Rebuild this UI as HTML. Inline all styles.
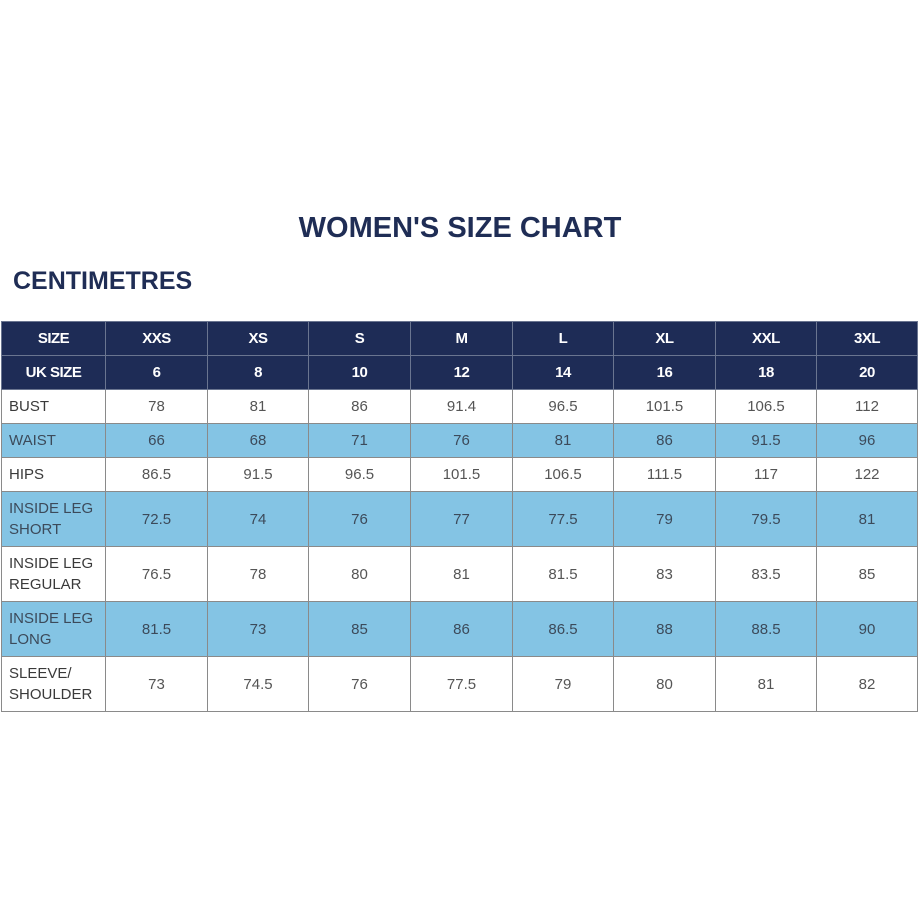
<!DOCTYPE html>
<html><head><style>
body{margin:0;width:920px;height:920px;background:#fff;position:relative;font-family:"Liberation Sans",sans-serif;overflow:hidden}
.t{position:absolute;color:#1f2d55;font-weight:bold}
table{position:absolute;left:1px;top:321px;border-collapse:collapse;table-layout:fixed;width:916px}
td{border:1px solid #8a8a8a;text-align:center;color:#555;font-size:15px;padding:0;line-height:21px}
td:first-child{text-align:left;padding-left:7px;color:#3a3a3a}
tr.h td{background:#1e2c56;color:#fff;font-weight:bold;border-color:#6a7590;font-size:15px;letter-spacing:-0.5px}
tr.h td:first-child{text-align:center;padding-left:0;color:#fff}
tr.b td{background:#84c4e4;color:#3c4a5a}
</style></head><body>
<div class="t" style="left:0;width:920px;text-align:center;top:212px;font-size:29px">WOMEN'S SIZE CHART</div>
<div class="t" style="left:13px;top:267px;font-size:25px">CENTIMETRES</div>
<table>
<colgroup><col style="width:104px"><col style="width:102px"><col style="width:101px"><col style="width:102px"><col style="width:102px"><col style="width:101px"><col style="width:102px"><col style="width:101px"><col style="width:101px"></colgroup>
<tr class="h" style="height:34px"><td>SIZE</td><td>XXS</td><td>XS</td><td>S</td><td>M</td><td>L</td><td>XL</td><td>XXL</td><td>3XL</td></tr>
<tr class="h" style="height:34px"><td>UK SIZE</td><td>6</td><td>8</td><td>10</td><td>12</td><td>14</td><td>16</td><td>18</td><td>20</td></tr>
<tr style="height:34px"><td>BUST</td><td>78</td><td>81</td><td>86</td><td>91.4</td><td>96.5</td><td>101.5</td><td>106.5</td><td>112</td></tr>
<tr class="b" style="height:34px"><td>WAIST</td><td>66</td><td>68</td><td>71</td><td>76</td><td>81</td><td>86</td><td>91.5</td><td>96</td></tr>
<tr style="height:34px"><td>HIPS</td><td>86.5</td><td>91.5</td><td>96.5</td><td>101.5</td><td>106.5</td><td>111.5</td><td>117</td><td>122</td></tr>
<tr class="b" style="height:55px"><td>INSIDE LEG<br>SHORT</td><td>72.5</td><td>74</td><td>76</td><td>77</td><td>77.5</td><td>79</td><td>79.5</td><td>81</td></tr>
<tr style="height:55px"><td>INSIDE LEG<br>REGULAR</td><td>76.5</td><td>78</td><td>80</td><td>81</td><td>81.5</td><td>83</td><td>83.5</td><td>85</td></tr>
<tr class="b" style="height:55px"><td>INSIDE LEG<br>LONG</td><td>81.5</td><td>73</td><td>85</td><td>86</td><td>86.5</td><td>88</td><td>88.5</td><td>90</td></tr>
<tr style="height:55px"><td>SLEEVE/<br>SHOULDER</td><td>73</td><td>74.5</td><td>76</td><td>77.5</td><td>79</td><td>80</td><td>81</td><td>82</td></tr>
</table>
</body></html>
